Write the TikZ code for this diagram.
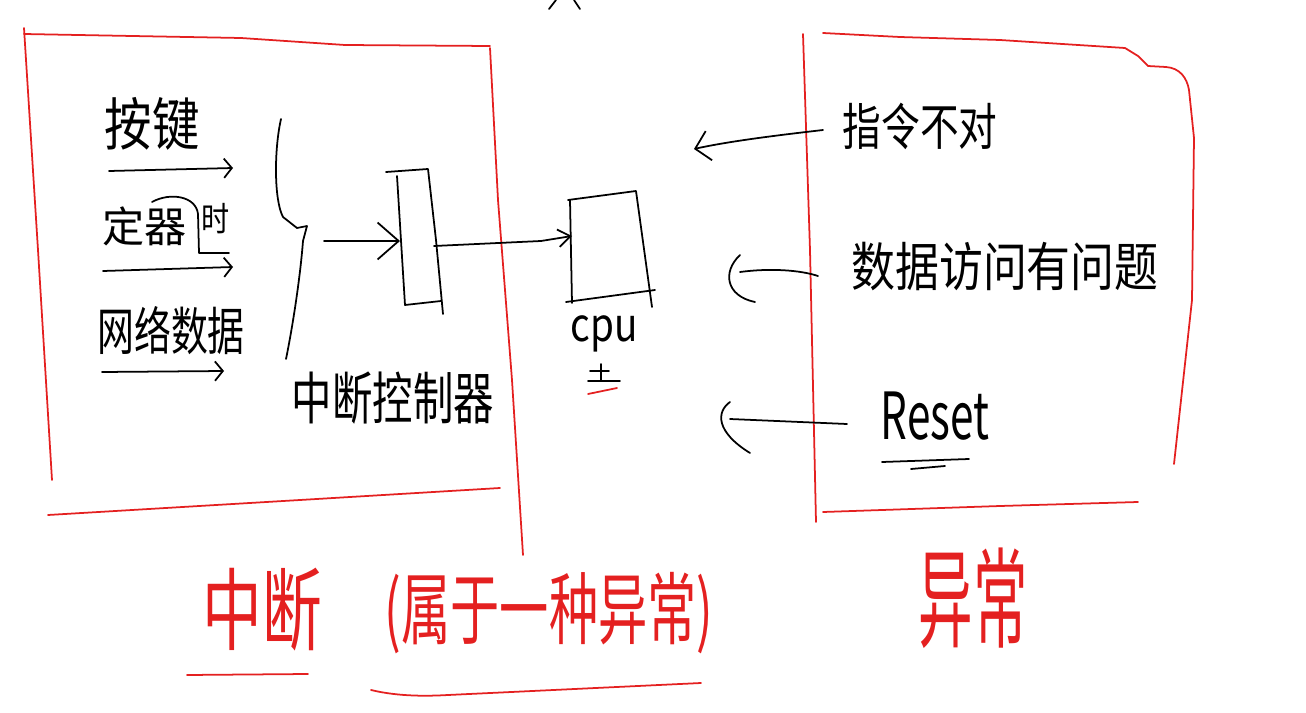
\documentclass[tikz,border=0pt]{standalone}
\usepackage{fontspec}
\newfontfamily\cjk{Noto Sans CJK SC}
\usetikzlibrary{arrows.meta}
\definecolor{penred}{RGB}{228,32,32}
\tikzset{
  pen/.style={line width=1pt, line cap=round, line join=round},
  redpen/.style={pen, draw=penred},
  word/.style={font=\cjk\fontsize{#1}{#1}\selectfont, inner sep=0pt},
  word/.default=24,
  barb/.style={-{Straight Barb[length=4.5pt,width=11pt]}},
}

\begin{document}
\begin{tikzpicture}[x=0.02cm, y=-0.02cm]
    \useasboundingbox (0,0) rectangle (1306,713);
    % frames
    \draw[redpen] (24,28) -- (38,250) -- (52,480);
    \draw[redpen] (24,34) -- (241,38) -- (345,45) -- (490,46);
    \draw[redpen] (490,48) -- (498,200) -- (512,380) -- (523,555);
    \draw[redpen] (48,515) -- (300,500) -- (500,488);
    \draw[redpen] (803,34) -- (810,250) -- (816,522);
    \draw[redpen] (823,33) -- (900,37) -- (1000,40) -- (1125,48) -- (1138,56) -- (1148,66) -- (1166,67) .. controls (1180,68) and (1187,78) .. (1189,90) -- (1194,138) -- (1192,300) -- (1174,464);
    \draw[redpen] (823,512) -- (1000,506) -- (1138,502);
    \draw[pen] (549,9) -- (556,0);
    \draw[pen] (574,0) -- (580,9);

    % sources
    \node[word=27, yscale=1.2] (key) at (152,124) {按键};
    \node[word=24] (timer) at (145,226) {定器};
    \node[word=16, yscale=1.2] (timerb) at (216,219) {时};
    \node[word=21, yscale=1.4] (net) at (171,331) {网络数据};
    \coordinate (k0) at (109,171); \coordinate (k1) at (233,168);
    \coordinate (t0) at (103,271); \coordinate (t1) at (233,267);
    \coordinate (n0) at (102,372); \coordinate (n1) at (224,371);
    \draw[pen, barb] (k0) -- (k1);
    \draw[pen] (152,202) .. controls (170,192) and (196,196) .. (198,214) -- (199,253) -- (229,253);
    \draw[pen, barb] (t0) -- (t1);
    \draw[pen, barb] (n0) -- (n1);
    \draw[pen] (281,119) .. controls (274,150) and (274,200) .. (283,217) -- (297,228) -- (307,226) -- (303,241) .. controls (300,280) and (292,330) .. (286,359);

    % interrupt controller
    \draw[pen] (386,172) -- (428,169) -- (436,240) -- (443,314);
    \draw[pen] (397,176) -- (405,305) -- (441,301);
    \coordinate (icin) at (400,241);
    \coordinate (icout) at (434,246);
    \coordinate (icsrc) at (324,241);
    \draw[pen, -{Straight Barb[length=12pt,width=21pt]}] (icsrc) -- (icin);
    \node[word=23, yscale=1.4] (ic) at (393,398) {中断控制器};

    % cpu
    \draw[pen] (568,200) -- (636,191) -- (652,307);
    \draw[pen] (570,200) -- (572,303);
    \draw[pen] (566,302) -- (655,290);
    \coordinate (cpuin) at (572,236);
    \draw[pen, -{Straight Barb[length=7pt,width=10pt]}] (icout) -- (541,241) -- (cpuin);
    \node[word=22, yscale=1.2] (cpu) at (604,334) {cpu};
    \draw[pen] (601,364) -- (601,380);
    \draw[pen] (590,371) -- (609,371);
    \draw[pen] (588,381) -- (620,381);
    \draw[redpen] (588,394) -- (617,388);

    % exceptions
    \node[word=22, yscale=1.3] (instr) at (920,126) {指令不对};
    \node[word=25, yscale=1.2] (data) at (1005,267) {数据访问有问题};
    \node[word=37, xscale=0.65] (reset) at (935,416) {Reset};
    \draw[pen] (882,462) -- (969,459);
    \draw[pen] (911,469) -- (945,466);
    \coordinate (a1) at (823,130); \coordinate (b1) at (694,149);
    \coordinate (a2) at (818,276); \coordinate (b2) at (740,272);
    \coordinate (a3) at (847,424); \coordinate (b3) at (730,419);
    \draw[pen, -{Straight Barb[length=8pt,width=17pt]}] (a1) .. controls (780,135) and (730,141) .. (b1);
    \draw[pen] (a2) .. controls (800,270) and (770,268) .. (b2);
    \draw[pen] (740,255) .. controls (722,272) and (726,296) .. (755,302);
    \draw[pen] (a3) -- (b3);
    \draw[pen] (730,402) .. controls (716,412) and (716,432) .. (750,453);

    % captions
    \node[word=34, yscale=1.5, text=penred] (intr) at (262,610) {中断};
    \node[word=28, yscale=1.6, text=penred] (kind) at (549,613) {(属于一种异常)};
    \node[word=31, yscale=2, text=penred] (exc) at (973,598) {异常};
    \draw[redpen] (187,675) -- (308,674);
    \draw[redpen] (371,690) .. controls (400,697) and (430,696) .. (448,695) -- (701,683);
\end{tikzpicture}
\end{document}
